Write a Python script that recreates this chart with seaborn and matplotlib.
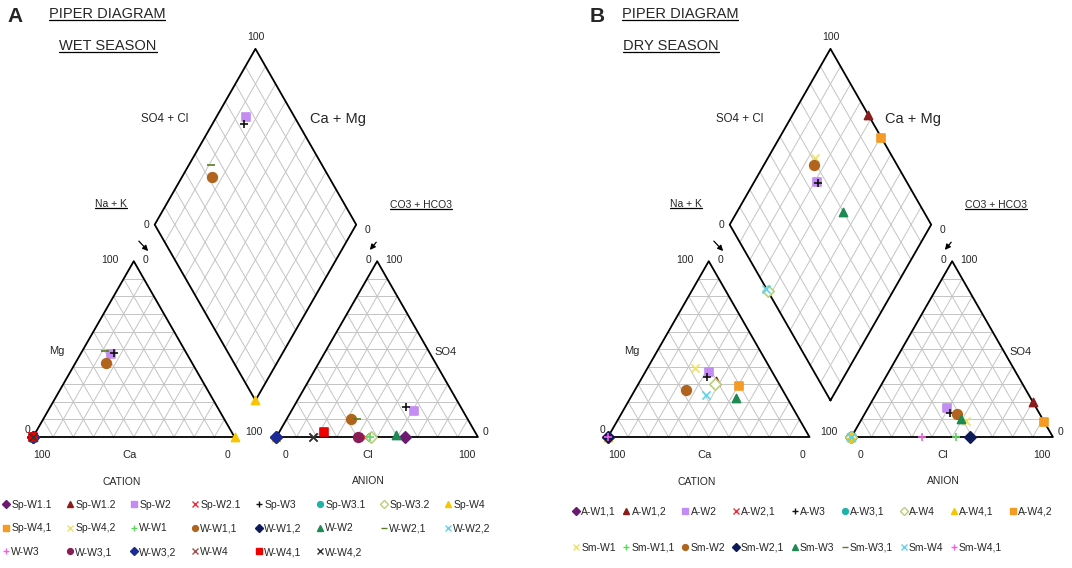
import numpy as np
import pandas as pd
import matplotlib
matplotlib.use("Agg")
import matplotlib.pyplot as plt
from matplotlib.lines import Line2D
from matplotlib.transforms import IdentityTransform
import seaborn as sns

# ---- data (percent of meq) ----
nan = np.nan

wet_names = ["Sp-W1.1", "Sp-W1.2", "Sp-W2", "Sp-W2.1", "Sp-W3", "Sp-W3.1", "Sp-W3.2", "Sp-W4",
             "Sp-W4,1", "Sp-W4,2", "W-W1", "W-W1,1", "W-W1,2", "W-W2", "W-W2,1", "W-W2,2",
             "W-W3", "W-W3,1", "W-W3,2", "W-W4", "W-W4,1", "W-W4,2"]
wet_mg = [0, nan, 47, 0, 48, nan, 0, 0, nan, nan, 0, 42, 0, 0, 49, nan, nan, 0, 0, 0, 0, 0]
wet_na = [0, nan, 15, 0, 16, nan, 0, 100, nan, nan, 0, 15, 0, 0, 11, nan, nan, 0, 0, 0, 0, 0]
wet_so4 = [0, nan, 15, 0, 17, nan, 0, 0, nan, nan, 0, 10, 0, 1, 10, nan, nan, 0, 0, 0, 3, 0]
wet_cl = [64, nan, 61, 44, 56, nan, 47, 0, nan, nan, 46.5, 32, 0, 59, 35, nan, nan, 40.5, 0, 18, 22, 18]
wet_diamond = ["Sp-W2", "Sp-W3", "Sp-W4", "W-W1,1", "W-W2,1"]

dry_names = ["A-W1,1", "A-W1,2", "A-W2", "A-W2,1", "A-W3", "A-W3,1", "A-W4", "A-W4,1", "A-W4,2",
             "Sm-W1", "Sm-W1,1", "Sm-W2", "Sm-W2,1", "Sm-W3", "Sm-W3,1", "Sm-W4", "Sm-W4,1"]
dry_mg = [0, 32, 37, nan, 34, nan, 30, 0, 29, 39, 0, 27, 0, 22, nan, 24, 0]
dry_na = [0, 37.5, 31.5, nan, 32, nan, 38, 0, 50.5, 23.5, 0, 25, 0, 52.5, nan, 36.5, 0]
dry_so4 = [0, 20, 16.5, nan, 13.5, 0, 0, 0, 8.5, 9, 0, 13, 0, 10, nan, 0, 0]
dry_cl = [0, 80, 39, nan, 42, 0, 0, 0, 91.5, 52.5, 52, 46, 59, 49.5, nan, 0, 35]
dry_diamond = ["A-W1,2", "A-W2", "A-W3", "A-W4", "A-W4,2", "Sm-W1", "Sm-W2", "Sm-W3", "Sm-W4"]

# marker style per legend position (same sequence in both panels)
markers = ["D", "^", "s", "x", "+", "o", "D", "^", "s", "x", "+", "o", "D", "^", "_", "x",
           "+", "o", "D", "x", "s", "x"]
colors = ["#6a1b70", "#8b1c1c", "#c28cf2", "#e8303c", "#111111", "#20b2a6", "#b9cf7a", "#f7c600",
          "#f59a22", "#eee266", "#5cd65c", "#b0641e", "#0c1a5a", "#1d8a52", "#5b7d1f", "#62d2e8",
          "#f060e0", "#8a1d56", "#1b2a96", "#a0524a", "#ee0000", "#333333"]
hollow = [6]

# ---- geometry ----
G = 20.8
H = np.sqrt(3) / 2
SX, SY = 2.015, 2.03  # px per unit


def cation_xy(mg, na):
    return na + mg / 2, mg * H


def anion_xy(so4, cl):
    return 100 + G + cl + so4 / 2, so4 * H


def diamond_xy(na, so4, cl):
    a = na / 100
    b = (so4 + cl) / 100
    bx, by = 100 + G / 2, G * H
    return bx - 50 * (1 - a) + 50 * b, by + 100 * H * (1 - a) + 100 * H * b


def draw_frame(ax):
    gc = "#c4c4c4"
    for ox in [0, 100 + G]:
        for i in range(1, 10):
            t = i * 10
            ax.plot([ox + t / 2, ox + 100 - t / 2], [t * H, t * H], color=gc, lw=0.7, zorder=1)
            ax.plot([ox + t, ox + t + (100 - t) / 2], [0, (100 - t) * H], color=gc, lw=0.7, zorder=1)
            ax.plot([ox + 100 - t, ox + (100 - t) / 2], [0, (100 - t) * H], color=gc, lw=0.7, zorder=1)
        ax.plot([ox, ox + 100, ox + 50, ox], [0, 0, 100 * H, 0], color="black", lw=1.3, zorder=2)
    B = np.array([100 + G / 2, G * H])
    L = B + np.array([-50, 100 * H])
    R = B + np.array([50, 100 * H])
    T = L + (R - B)
    for i in range(1, 10):
        s = i / 10
        p = B + s * (L - B)
        ax.plot([p[0], p[0] + (R - B)[0]], [p[1], p[1] + (R - B)[1]], color=gc, lw=0.7, zorder=1)
        p = B + s * (R - B)
        ax.plot([p[0], p[0] + (L - B)[0]], [p[1], p[1] + (L - B)[1]], color=gc, lw=0.7, zorder=1)
    ax.plot([B[0], L[0], T[0], R[0], B[0]], [B[1], L[1], T[1], R[1], B[1]], color="black", lw=1.3, zorder=2)


def draw_labels(ax):
    tk = dict(fontsize=7.5, ha="center", va="center")
    ax.text(110.4, 197, "100", **tk)
    ax.text(65.5, 156.7, "SO4 + Cl", fontsize=8.3, ha="center", va="center")
    ax.text(151.4, 156.7, "Ca + Mg", fontsize=10.5, ha="center", va="center")
    ax.text(56.1, 104.4, "0", **tk)
    ax.text(165.8, 102.0, "0", **tk)
    ax.text(38.2, 87.2, "100", **tk)
    ax.text(55.6, 87.2, "0", **tk)
    ax.text(11.9, 42.4, "Mg", fontsize=8, ha="center", va="center")
    ax.text(-2.5, 3.4, "0", **tk)
    ax.text(4.5, -8.9, "100", **tk)
    ax.text(48.1, -8.9, "Ca", fontsize=8, ha="center", va="center")
    ax.text(96.3, -8.9, "0", **tk)
    ax.text(109.7, 2.5, "100", **tk)
    ax.text(125.1, -8.9, "0", **tk)
    ax.text(166.3, -8.9, "Cl", fontsize=8, ha="center", va="center")
    ax.text(215.4, -8.9, "100", **tk)
    ax.text(224.8, 2.5, "0", **tk)
    ax.text(199, 41.9, "SO4", fontsize=8, ha="left", va="center")
    ax.text(166.3, 87.2, "0", **tk)
    ax.text(179.2, 87.2, "100", **tk)
    ax.text(44.2, -22.2, "CATION", fontsize=7.5, ha="center", va="center")
    ax.text(166.3, -21.7, "ANION", fontsize=7.5, ha="center", va="center")
    ax.annotate("", xy=(58.1, 90.6), xytext=(51.6, 97.5),
                arrowprops=dict(arrowstyle="-|>", color="black", lw=0.9, mutation_scale=8))
    ax.annotate("", xy=(166.3, 91.1), xytext=(171.2, 97.0),
                arrowprops=dict(arrowstyle="-|>", color="black", lw=0.9, mutation_scale=8))
    u1 = ax.text(38.7, 114.8, "Na + K", fontsize=7.5, ha="center", va="center")
    u2 = ax.text(192.6, 114.3, "CO3 + HCO3", fontsize=7.5, ha="center", va="center")
    return [u1, u2]


def draw_points(ax, names, mg, na, so4, cl, shown):
    for i, name in enumerate(names):
        cx, cy = cation_xy(mg[i], na[i])
        axx, ayy = anion_xy(so4[i], cl[i])
        xs, ys = [cx, axx], [cy, ayy]
        if name in shown:
            dx, dy = diamond_xy(na[i], so4[i], cl[i])
            xs.append(dx)
            ys.append(dy)
        df = pd.DataFrame({"x": xs, "y": ys})
        m, c = markers[i], colors[i]
        size = 48 if m == "o" else 34
        kw = dict(marker=m, s=size, linewidth=1.2, zorder=3, legend=False, ax=ax)
        if i in hollow:
            sns.scatterplot(data=df, x="x", y="y", color="white", edgecolor=c, **kw)
        elif m in ["x", "+", "_"]:
            sns.scatterplot(data=df, x="x", y="y", color=c, **kw)
        else:
            sns.scatterplot(data=df, x="x", y="y", color=c, edgecolor=c, **kw)


def add_legend(ax, names, ncol, anchor, spacing, colspace):
    handles = []
    for i, name in enumerate(names):
        fc = "none" if i in hollow else colors[i]
        handles.append(Line2D([], [], marker=markers[i], color=colors[i], markerfacecolor=fc,
                              linestyle="none", markersize=4.2, markeredgewidth=1.0, label=name))
    n = len(handles)
    nrow = int(np.ceil(n / ncol))
    order = [r * ncol + j for j in range(ncol) for r in range(nrow) if r * ncol + j < n]
    ax.legend(handles=[handles[k] for k in order], ncol=ncol, loc="upper left",
              bbox_to_anchor=anchor, bbox_transform=ax.transData, frameon=False,
              fontsize=7.5, handlelength=0.6, handletextpad=0.2, columnspacing=colspace,
              labelspacing=spacing, borderpad=0, borderaxespad=0)


sns.set_style("white")
plt.rcParams["font.family"] = ["Liberation Sans", "DejaVu Sans"]

fig = plt.figure(figsize=(10.72, 5.68), dpi=100)
ax_a = fig.add_axes([0, 0, 0.5, 1])
ax_b = fig.add_axes([0.5, 0, 0.5, 1])
ax_a.set_xlim(-33 / SX, 503 / SX)
ax_b.set_xlim(-72 / SX, 464 / SX)
for ax in [ax_a, ax_b]:
    ax.set_ylim(-131 / SY, 437 / SY)
    ax.set_axis_off()

under = []
draw_frame(ax_a)
under += draw_labels(ax_a)
draw_points(ax_a, wet_names, wet_mg, wet_na, wet_so4, wet_cl, wet_diamond)
add_legend(ax_a, wet_names, 8, (-14.9, -31.0), 1.3, 1.46)
ax_a.text(-8.9, 206.9, "A", fontsize=15, fontweight="bold", ha="center", va="center")
under.append(ax_a.text(36.7, 208.5, "PIPER DIAGRAM", fontsize=10.5, ha="center", va="center"))
under.append(ax_a.text(37.2, 192.6, "WET SEASON", fontsize=10.5, ha="center", va="center"))

draw_frame(ax_b)
under += draw_labels(ax_b)
draw_points(ax_b, dry_names, dry_mg, dry_na, dry_so4, dry_cl, dry_diamond)
add_legend(ax_b, dry_names, 9, (-17.4, -34.3), 2.5, 0.7)
ax_b.text(-5.5, 206.9, "B", fontsize=15, fontweight="bold", ha="center", va="center")
under.append(ax_b.text(35.7, 208.5, "PIPER DIAGRAM", fontsize=10.5, ha="center", va="center"))
under.append(ax_b.text(31.3, 192.6, "DRY SEASON", fontsize=10.5, ha="center", va="center"))

fig.canvas.draw()
renderer = fig.canvas.get_renderer()
for t in under:
    bb = t.get_window_extent(renderer)
    y = bb.y0 + 1
    fig.add_artist(Line2D([bb.x0, bb.x1], [y, y], transform=IdentityTransform(),
                          color="black", lw=0.9))

fig.savefig("out.png", dpi=100)
